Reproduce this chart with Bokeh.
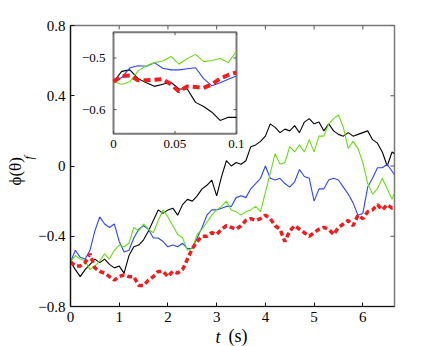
import math
from bokeh.plotting import figure
from bokeh.models import Range1d, FixedTicker, Title
from bokeh.core.properties import value
from bokeh.embed import file_html
from bokeh.resources import INLINE

# ---------------- data ----------------
t_main = [0.0, 0.1, 0.2, 0.3, 0.4, 0.5, 0.6, 0.7, 0.8, 0.9,
          1.0, 1.1, 1.2, 1.3, 1.4, 1.5, 1.6, 1.7, 1.8, 1.9,
          2.0, 2.1, 2.2, 2.3, 2.4, 2.5, 2.6, 2.7, 2.8, 2.9,
          3.0, 3.1, 3.2, 3.3, 3.4, 3.5, 3.6, 3.7, 3.8, 3.9,
          4.0, 4.1, 4.2, 4.3, 4.4, 4.5, 4.6, 4.7, 4.8, 4.9,
          5.0, 5.1, 5.2, 5.3, 5.4, 5.5, 5.6, 5.7, 5.8, 5.9,
          6.0, 6.1, 6.2, 6.3, 6.4, 6.5, 6.6, 6.65]

black = [-0.546, -0.59, -0.63, -0.59, -0.56, -0.53, -0.55, -0.53, -0.56, -0.58,
         -0.57, -0.61, -0.51, -0.46, -0.45, -0.42, -0.37, -0.31, -0.25, -0.27,
         -0.25, -0.24, -0.28, -0.22, -0.19, -0.20, -0.17, -0.13, -0.11, -0.08,
         -0.17, -0.06, 0.03, 0.00, 0.02, 0.01, 0.03, 0.11, 0.12, 0.14,
         0.17, 0.24, 0.22, 0.19, 0.21, 0.20, 0.23, 0.19, 0.25, 0.27,
         0.24, 0.25, 0.20, 0.24, 0.20, 0.18, 0.17, 0.19, 0.17, 0.18,
         0.19, 0.20, 0.15, 0.13, 0.08, 0.00, 0.08, 0.07]

blue = [-0.546, -0.48, -0.52, -0.53, -0.48, -0.37, -0.29, -0.33, -0.35, -0.33,
        -0.43, -0.49, -0.48, -0.41, -0.36, -0.34, -0.36, -0.41, -0.41, -0.43,
        -0.46, -0.45, -0.46, -0.44, -0.47, -0.47, -0.41, -0.35, -0.28, -0.25,
        -0.25, -0.24, -0.23, -0.23, -0.18, -0.17, -0.18, -0.13, -0.10, -0.07,
        0.00, -0.07, -0.08, -0.07, -0.10, -0.12, -0.09, -0.02, -0.06, -0.07,
        -0.20, -0.13, -0.13, -0.08, -0.07, -0.08, -0.12, -0.16, -0.21, -0.28,
        -0.27, -0.12, -0.07, -0.01, -0.01, 0.01, -0.03, -0.05]

green = [-0.546, -0.51, -0.53, -0.54, -0.59, -0.57, -0.54, -0.50, -0.53, -0.48,
         -0.45, -0.46, -0.44, -0.35, -0.37, -0.33, -0.36, -0.38, -0.31, -0.25,
         -0.29, -0.34, -0.39, -0.41, -0.48, -0.47, -0.39, -0.36, -0.32, -0.28,
         -0.25, -0.23, -0.20, -0.25, -0.26, -0.28, -0.26, -0.25, -0.23, -0.26,
         -0.15, -0.04, 0.07, 0.01, 0.02, 0.11, 0.08, 0.12, 0.08, 0.15,
         0.08, 0.17, 0.17, 0.24, 0.27, 0.29, 0.22, 0.10, 0.14, 0.10,
         0.02, -0.10, -0.16, -0.13, -0.07, -0.13, -0.19, -0.15]

red = [-0.546, -0.57, -0.57, -0.55, -0.50, -0.58, -0.60, -0.61, -0.63, -0.65,
       -0.63, -0.62, -0.63, -0.63, -0.68, -0.68, -0.65, -0.63, -0.60, -0.60,
       -0.63, -0.60, -0.61, -0.59, -0.53, -0.47, -0.43, -0.40, -0.40, -0.38,
       -0.39, -0.36, -0.34, -0.35, -0.36, -0.34, -0.31, -0.30, -0.31, -0.30,
       -0.28, -0.30, -0.34, -0.36, -0.43, -0.37, -0.34, -0.36, -0.38, -0.40,
       -0.38, -0.36, -0.35, -0.36, -0.39, -0.35, -0.33, -0.31, -0.34, -0.28,
       -0.30, -0.26, -0.25, -0.22, -0.25, -0.22, -0.24, -0.24]

t_inset = [0.0, 0.0067, 0.0133, 0.02, 0.0267, 0.0333, 0.04, 0.0467,
           0.0533, 0.06, 0.0667, 0.0733, 0.08, 0.0867, 0.0933, 0.1]
inset_black = [-0.546, -0.526, -0.523, -0.540, -0.548, -0.555, -0.551, -0.547,
               -0.560, -0.560, -0.586, -0.594, -0.605, -0.621, -0.615, -0.615]
inset_blue = [-0.546, -0.538, -0.519, -0.515, -0.516, -0.509, -0.520, -0.523,
              -0.523, -0.521, -0.519, -0.540, -0.554, -0.548, -0.541, -0.535]
inset_green = [-0.546, -0.551, -0.546, -0.525, -0.515, -0.509, -0.506, -0.497,
               -0.512, -0.501, -0.493, -0.507, -0.505, -0.501, -0.509, -0.487]
inset_red = [-0.546, -0.535, -0.534, -0.543, -0.543, -0.542, -0.541, -0.551,
             -0.565, -0.555, -0.556, -0.558, -0.551, -0.540, -0.533, -0.528]

x_ticks = [0, 1, 2, 3, 4, 5, 6]
x_tick_labels = ["0", "1", "2", "3", "4", "5", "6"]
y_ticks = [-0.8, -0.4, 0, 0.4, 0.8]
y_tick_labels = ["\u22120.8", "\u22120.4", "0", "0.4", "0.8"]
inset_x_ticks = [0, 0.05, 0.1]
inset_x_tick_labels = ["0", "0.05", "0.1"]
inset_y_ticks = [-0.5, -0.6]
inset_y_tick_labels = ["\u22120.5", "\u22120.6"]

# ---------------- styles ----------------
SERIF = "Liberation Serif"
C_BLACK = "#000000"
C_BLUE = "#2a45ff"
C_GREEN = "#66e010"
C_RED = "#f21c1c"
BOX = "#7a7a7a"

xr = Range1d(0, 6.65)
yr = Range1d(-0.8, 0.8)
p = figure(width=435, height=346, output_backend="svg", toolbar_location=None,
           x_range=xr, y_range=yr,
           min_border_left=70, min_border_right=41,
           min_border_top=25, min_border_bottom=40)
p.background_fill_color = "white"
p.border_fill_color = "white"
p.outline_line_color = BOX
p.outline_line_width = 1.5
p.grid.visible = False

for ax, ticks, labels in ((p.xaxis[0], x_ticks, x_tick_labels),
                          (p.yaxis[0], y_ticks, y_tick_labels)):
    ax.ticker = FixedTicker(ticks=ticks)
    ax.major_label_overrides = {t: l for t, l in zip(ticks, labels)}
    ax.major_tick_in = 4
    ax.major_tick_out = 0
    ax.minor_tick_line_color = None
    ax.axis_line_color = "#111111"
    ax.axis_line_width = 1.2
    ax.major_tick_line_color = "#111111"
    ax.major_label_text_font = SERIF
    ax.major_label_text_font_size = "15px"
    ax.major_label_text_color = "black"
    ax.major_label_standoff = 5

# inward ticks on the top and right edges of the box
main_tick = dict(length=4, length_units="screen", line_color="#555555", line_width=1)
p.ray(x=x_ticks, y=[yr.end] * len(x_ticks), angle=-math.pi / 2, **main_tick)
p.ray(x=[xr.end] * len(y_ticks), y=y_ticks, angle=math.pi, **main_tick)

# main curves
p.line(t_main, black, line_color=C_BLACK, line_width=1.1)
p.line(t_main, blue, line_color=C_BLUE, line_width=1.1)
p.line(t_main, green, line_color=C_GREEN, line_width=1.1)
p.line(t_main, red, line_color=C_RED, line_width=3.5, line_dash="5 3")

# axis labels, drawn as titles in the side panels
ttl = dict(text_font=SERIF, text_color="black", align="left")
# y label: subscript f (inner column) and  phi(theta)  (outer column)
p.add_layout(Title(text="f", text_font_style="italic", text_font_size="12px",
                   vertical_align="top", standoff=-4, offset=147, **ttl), "left")
p.add_layout(Title(text="\u03d5(\u03b8)", text_font_style="normal", text_font_size="17px",
                   vertical_align="top", standoff=-6, offset=121, **ttl), "left")
# x label: italic t, then (s) pulled up onto the same line
p.add_layout(Title(text="t", text_font_style="italic", text_font_size="18px",
                   vertical_align="bottom", standoff=0, offset=145, **ttl), "below")
p.add_layout(Title(text="(s)", text_font_style="normal", text_font_size="18px",
                   vertical_align="top", standoff=-41, offset=158, **ttl), "below")

# ---------------- inset ----------------
ix = Range1d(0, 0.1)
iy = Range1d(-0.647, -0.45)
ins = p.subplot(x_source=ix, y_source=iy,
                x_target=Range1d(0.8826, 3.407), y_target=Range1d(0.183, 0.762))

ins.quad(left=[ix.start], right=[ix.end], bottom=[iy.start], top=[iy.end],
         fill_color="white", line_color=BOX, line_width=2)

ins.line(t_inset, inset_black, line_color=C_BLACK, line_width=1.1)
ins.line(t_inset, inset_blue, line_color=C_BLUE, line_width=1.1)
ins.line(t_inset, inset_green, line_color=C_GREEN, line_width=1.1)
ins.line(t_inset, inset_red, line_color=C_RED, line_width=4, line_dash="7 4")

tick_kw = dict(length=3, length_units="screen", line_color="#555555", line_width=1)
ins.ray(x=inset_x_ticks, y=[iy.start] * len(inset_x_ticks), angle=math.pi / 2, **tick_kw)
ins.ray(x=inset_x_ticks, y=[iy.end] * len(inset_x_ticks), angle=-math.pi / 2, **tick_kw)
ins.ray(x=[ix.start] * len(inset_y_ticks), y=inset_y_ticks, angle=0, **tick_kw)
ins.ray(x=[ix.end] * len(inset_y_ticks), y=inset_y_ticks, angle=math.pi, **tick_kw)

ins.text(x=inset_x_ticks, y=[iy.start] * len(inset_x_ticks), text=inset_x_tick_labels,
         text_align="center", text_baseline="top", y_offset=6,
         text_font=value(SERIF), text_font_size="13px", text_color="black")
ins.text(x=[ix.start] * len(inset_y_ticks), y=inset_y_ticks, text=inset_y_tick_labels,
         text_align="right", text_baseline="middle", x_offset=-8,
         text_font=value(SERIF), text_font_size="13px", text_color="black")

open("out.html", "w").write(file_html(p, INLINE))
